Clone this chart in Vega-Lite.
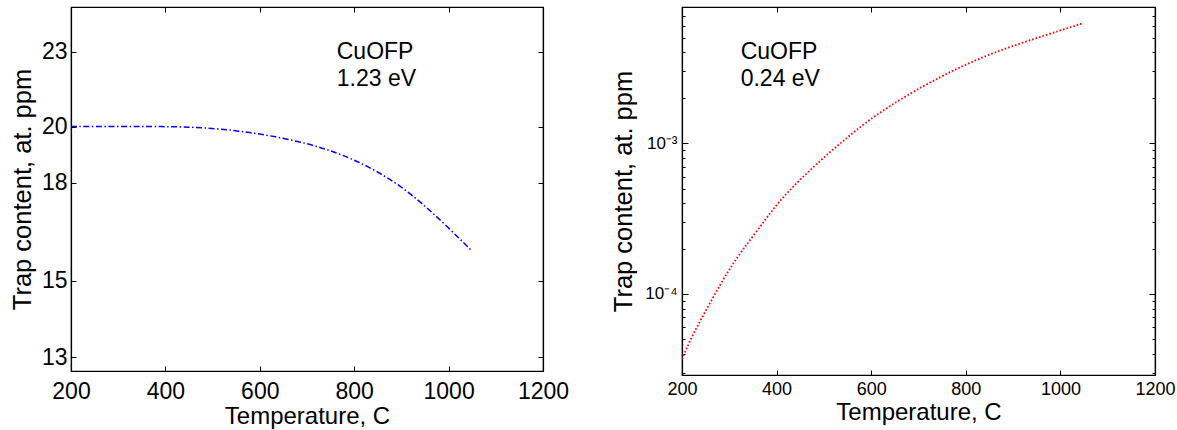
{
  "$schema": "https://vega.github.io/schema/vega-lite/v6.json",
  "autosize": {"type": "pad"},
  "padding": {"left": 9, "top": 5, "right": 0, "bottom": 0},
  "bounds": "flush",
  "spacing": 139,
  "background": "white",
  "config": {
    "font": "Liberation Sans",
    "view": {"stroke": "black", "strokeWidth": 1.2},
    "axis": {
      "grid": false,
      "domain": true,
      "domainColor": "black",
      "domainWidth": 1.2,
      "tickColor": "black",
      "tickWidth": 1,
      "labelColor": "black",
      "titleColor": "black",
      "labelFont": "Liberation Sans",
      "titleFont": "Liberation Sans",
      "titleFontWeight": "normal",
      "labelFlush": false,
      "labelOverlap": false,
      "labelBound": false
    }
  },
  "datasets": {
    "left": [
      {"T": 200, "c": 20.0},
      {"T": 300, "c": 20.0},
      {"T": 400, "c": 20.0},
      {"T": 450, "c": 19.98},
      {"T": 500, "c": 19.93},
      {"T": 540, "c": 19.87},
      {"T": 580, "c": 19.77},
      {"T": 630, "c": 19.64},
      {"T": 700, "c": 19.38},
      {"T": 750, "c": 19.12},
      {"T": 800, "c": 18.8},
      {"T": 850, "c": 18.38},
      {"T": 900, "c": 17.88},
      {"T": 950, "c": 17.25},
      {"T": 1000, "c": 16.55},
      {"T": 1049, "c": 15.86}
    ],
    "right": [
      {"T": 200, "v": 0.000037},
      {"T": 218, "v": 0.000050},
      {"T": 238, "v": 0.000066},
      {"T": 260, "v": 0.000088},
      {"T": 282, "v": 0.000117},
      {"T": 303, "v": 0.000151},
      {"T": 328, "v": 0.000196},
      {"T": 360, "v": 0.000265},
      {"T": 394, "v": 0.000372},
      {"T": 429, "v": 0.000495},
      {"T": 472, "v": 0.00067},
      {"T": 514, "v": 0.00088},
      {"T": 540, "v": 0.00103},
      {"T": 567, "v": 0.00121},
      {"T": 605, "v": 0.00150},
      {"T": 676, "v": 0.00209},
      {"T": 747, "v": 0.00276},
      {"T": 800, "v": 0.00333},
      {"T": 860, "v": 0.00400},
      {"T": 931, "v": 0.00477},
      {"T": 1002, "v": 0.00562},
      {"T": 1048, "v": 0.00625}
    ],
    "leftText": [
      {"T": 763, "c": 22.67, "label": "CuOFP"},
      {"T": 763, "c": 21.59, "label": "1.23 eV"}
    ],
    "rightText": [
      {"T": 324, "v": 0.0036, "label": "CuOFP"},
      {"T": 324, "v": 0.00239, "label": "0.24 eV"}
    ]
  },
  "hconcat": [
    {
      "width": 472,
      "height": 364,
      "layer": [
        {
          "data": {"name": "left"},
          "mark": {"type": "line", "color": "#0000ff", "strokeWidth": 1.5, "strokeDash": [6, 2.5, 1.5, 2.5], "interpolate": "basis", "clip": true},
          "encoding": {
            "x": {"field": "T", "type": "quantitative",
              "scale": {"domain": [200, 1200], "nice": false, "zero": false},
              "axis": {"orient": "bottom", "values": [200, 400, 600, 800, 1000, 1200], "format": "d",
                "tickSize": -5, "labelPadding": 14, "labelFontSize": 23,
                "title": "Temperature, C", "titleFontSize": 24, "titleY": 33}},
            "y": {"field": "c", "type": "quantitative",
              "scale": {"type": "log", "domain": [12.67, 25], "nice": false},
              "axis": {"orient": "left", "values": [13, 15, 18, 20, 23], "format": "d",
                "tickSize": -5, "labelPadding": 9, "labelFontSize": 23,
                "title": "Trap content, at. ppm", "titleFontSize": 25.5, "titleX": -36}}
          }
        },
        {
          "data": {"name": "leftText"},
          "mark": {"type": "text", "align": "left", "baseline": "alphabetic", "fontSize": 23, "font": "Liberation Sans", "color": "black"},
          "encoding": {
            "x": {"field": "T", "type": "quantitative",
              "scale": {"domain": [200, 1200], "nice": false, "zero": false},
              "axis": {"orient": "top", "values": [200, 400, 600, 800, 1000, 1200], "labels": false, "title": null, "tickSize": -5}},
            "y": {"field": "c", "type": "quantitative",
              "scale": {"type": "log", "domain": [12.67, 25], "nice": false},
              "axis": {"orient": "right", "values": [13, 15, 18, 20, 23], "labels": false, "title": null, "tickSize": -5}},
            "text": {"field": "label"}
          }
        }
      ],
      "resolve": {"axis": {"x": "independent", "y": "independent"}}
    },
    {
      "width": 473,
      "height": 368,
      "layer": [
        {
          "data": {"name": "right"},
          "mark": {"type": "line", "color": "#ff0000", "strokeWidth": 1.8, "strokeDash": [1.6, 2], "interpolate": "basis", "clip": true},
          "encoding": {
            "x": {"field": "T", "type": "quantitative",
              "scale": {"domain": [200, 1200], "nice": false, "zero": false},
              "axis": {"orient": "bottom", "values": [200, 400, 600, 800, 1000, 1200], "format": "d",
                "tickSize": -5, "labelPadding": 10, "labelFontSize": 18,
                "title": "Temperature, C", "titleFontSize": 24, "titleY": 25}},
            "y": {"field": "v", "type": "quantitative",
              "scale": {"type": "log", "domain": [0.000029, 0.008], "nice": false},
              "axis": {"orient": "left",
                "values": [0.00003, 0.00004, 0.00005, 0.00006, 0.00007, 0.00008, 0.00009, 0.0001, 0.0002, 0.0003, 0.0004, 0.0005, 0.0006, 0.0007, 0.0008, 0.0009, 0.001, 0.002, 0.003, 0.004, 0.005, 0.006, 0.007],
                "labelExpr": "datum.value == 0.001 ? '10⁻³' : (datum.value == 0.0001 ? '10⁻⁴' : '')",
                "tickSize": {"condition": {"test": "datum.value == 0.001 || datum.value == 0.0001", "value": -6}, "value": -3},
                "labelPadding": 11, "labelFontSize": 17,
                "title": "Trap content, at. ppm", "titleFontSize": 25.5, "titleX": -46}}
          }
        },
        {
          "data": {"name": "rightText"},
          "mark": {"type": "text", "align": "left", "baseline": "alphabetic", "fontSize": 23, "font": "Liberation Sans", "color": "black"},
          "encoding": {
            "x": {"field": "T", "type": "quantitative",
              "scale": {"domain": [200, 1200], "nice": false, "zero": false},
              "axis": {"orient": "top", "values": [200, 400, 600, 800, 1000, 1200], "labels": false, "title": null, "tickSize": -5}},
            "y": {"field": "v", "type": "quantitative",
              "scale": {"type": "log", "domain": [0.000029, 0.008], "nice": false},
              "axis": {"orient": "right",
                "values": [0.00003, 0.00004, 0.00005, 0.00006, 0.00007, 0.00008, 0.00009, 0.0001, 0.0002, 0.0003, 0.0004, 0.0005, 0.0006, 0.0007, 0.0008, 0.0009, 0.001, 0.002, 0.003, 0.004, 0.005, 0.006, 0.007],
                "tickSize": {"condition": {"test": "datum.value == 0.001 || datum.value == 0.0001", "value": -6}, "value": -3},
                "labels": false, "title": null}},
            "text": {"field": "label"}
          }
        }
      ],
      "resolve": {"axis": {"x": "independent", "y": "independent"}}
    }
  ]
}
